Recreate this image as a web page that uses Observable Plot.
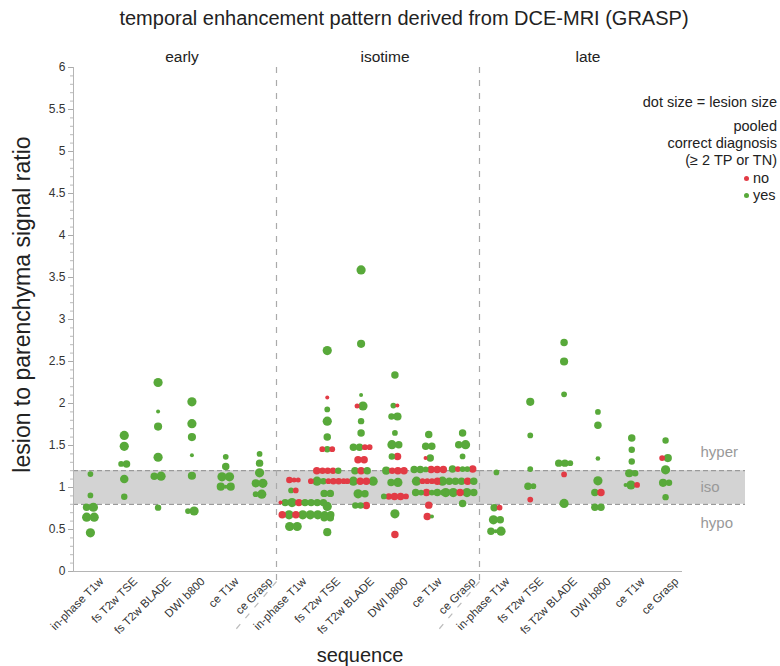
<!DOCTYPE html>
<html><head><meta charset="utf-8">
<script src="https://cdn.jsdelivr.net/npm/d3@7"></script>
<script src="https://cdn.jsdelivr.net/npm/@observablehq/plot@0.6"></script>
<style>
body{margin:0;background:#fff;font-family:"Liberation Sans",Arial,sans-serif;}
#wrap{position:relative;width:780px;height:666px;overflow:hidden;background:#fff}
#chart{position:absolute;left:0;top:0}
.t{position:absolute;white-space:nowrap;color:#222;line-height:1}
.lg{position:absolute;right:3px;text-align:right;font-size:14.5px;white-space:nowrap;color:#222;line-height:1.1}
.b{display:inline-block;width:5px;height:5px;border-radius:50%;margin-right:4px;vertical-align:middle;position:relative;top:-1px}
</style></head><body>
<div id="wrap">
  <div id="chart"></div>
  <div class="t" style="left:0;width:808px;text-align:center;top:8px;font-size:20px">temporal enhancement pattern derived from DCE-MRI (GRASP)</div>
  <div class="t" style="left:-178px;width:400px;text-align:center;top:293px;font-size:23px;transform:rotate(-90deg)">lesion to parenchyma signal ratio</div>
  <div class="t" style="left:260px;width:200px;text-align:center;top:645px;font-size:20px">sequence</div>
  <div class="lg" style="top:95px">dot size = lesion size</div>
  <div class="lg" style="top:119px">pooled</div>
  <div class="lg" style="top:136px">correct diagnosis</div>
  <div class="lg" style="top:153px">(≥ 2 TP or TN)</div>
  <div class="lg" id="lgno" style="top:171px;right:auto;left:744px;text-align:left"></div>
  <div class="lg" id="lgyes" style="top:188px;right:auto;left:744px;text-align:left"></div>
</div>
<script>
const phases = ["early", "isotime", "late"];
const sequences = ["in-phase T1w", "fs T2w TSE", "fs T2w BLADE", "DWI b800", "ce T1w", "ce Grasp"];
const isoBand = [0.8, 1.2];
const zoneNames = ["hyper", "iso", "hypo"];
const zoneRatios = [1.42, 1.0, 0.57];
const yMajorTicks = [0, 0.5, 1, 1.5, 2, 2.5, 3, 3.5, 4, 4.5, 5, 5.5, 6];
const diagnosisLevels = ["no", "yes"];

// [sequence index, lesion/parenchyma ratio, dots in row: y|n (correct) + lesion size]
const earlyRows = [
  [0, 1.16, "y10"], [0, 0.905, "y10"], [0, 0.765, "y15 y20"], [0, 0.647, "y20 y20"], [0, 0.46, "y20"],
  [1, 1.62, "y20"], [1, 1.49, "y20"], [1, 1.28, "y10 y15"], [1, 1.10, "y18"], [1, 0.89, "y12"],
  [2, 2.25, "y20"], [2, 1.905, "y5"], [2, 1.725, "y17"], [2, 1.36, "y20"], [2, 1.135, "y15 y20"], [2, 0.76, "y12"],
  [3, 2.02, "y20"], [3, 1.76, "y20"], [3, 1.60, "y17"], [3, 1.385, "y5"], [3, 1.14, "y17"], [3, 0.72, "y10 y20"],
  [4, 1.365, "y10"], [4, 1.25, "y15"], [4, 1.127, "y20 y20"], [4, 1.01, "y17 y5 y17"],
  [5, 1.40, "y10"], [5, 1.29, "y15"], [5, 1.175, "y20"], [5, 1.05, "y17 y20"], [5, 0.92, "y10 y20"]
];
const isotimeRows = [
  [0, 1.09, "n12 n8 n8"], [0, 0.965, "y10 n10"], [0, 0.82, "n5 y15 y20 n15 y15 y15 y15 y15"],
  [0, 0.675, "n15 y20 n15 y20 y20 y20 y15 y15"], [0, 0.536, "y20 y20"],
  [1, 2.63, "y20"], [1, 2.07, "n5"], [1, 1.93, "y10"], [1, 1.79, "y20"], [1, 1.60, "y15"],
  [1, 1.456, "n10 y12 n10"], [1, 1.20, "n15 n12 n12 n12 y12"], [1, 1.075, "n10 y20 y12 n10 n12 n12 n10"],
  [1, 0.93, "y15 y15"], [1, 0.775, "y20"], [1, 0.64, "y15 y15"], [1, 0.468, "y17"],
  [2, 3.59, "y20"], [2, 2.71, "y17"], [2, 2.10, "y5"], [2, 1.97, "n8 y20"], [2, 1.79, "y12"], [2, 1.65, "y15"],
  [2, 1.48, "y15 y15 n10 n10"], [2, 1.33, "n15 n15"], [2, 1.20, "y15 n15 y15"], [2, 1.075, "n10 y20 n15 n15 y20"],
  [2, 0.925, "y20 y15"], [2, 0.786, "y12 y12 n15"],
  [3, 2.34, "y15"], [3, 1.976, "y10 n5"], [3, 1.845, "y12 y17"], [3, 1.65, "y10"], [3, 1.51, "y20 y15"],
  [3, 1.37, "y12 n15"], [3, 1.20, "y17 n12 n15 n15"], [3, 1.06, "y15 y20"], [3, 0.893, "y10 n12 n15 n15 n10"],
  [3, 0.687, "y20"], [3, 0.44, "n15"],
  [4, 1.63, "y15"], [4, 1.49, "y15 y15"], [4, 1.35, "n5 y15"], [4, 1.215, "y15 y15 y10 n15 n15 n15"],
  [4, 1.075, "y20 n10 n10 n10 n15 y10"], [4, 0.94, "y15 y10 n15 y10 y15 y10"], [4, 0.79, "n15"], [4, 0.655, "n15 y5"],
  [5, 1.65, "y15"], [5, 1.51, "y15 y20"], [5, 1.37, "y10"], [5, 1.22, "y15 n10 y10 y10 n15"],
  [5, 1.075, "y20 y15 y15 y15 n15 y15"], [5, 0.94, "y20 y20 n15 y20 y15"], [5, 0.81, "y15"]
];
const lateRows = [
  [0, 1.18, "y10"], [0, 0.76, "y15 n10"], [0, 0.615, "y20 y15"], [0, 0.48, "y15 y5 y20"],
  [1, 2.02, "y17"], [1, 1.62, "y10"], [1, 1.22, "y10"], [1, 1.015, "y15 y10"], [1, 0.857, "n10"],
  [2, 2.726, "y15"], [2, 2.50, "y17"], [2, 2.11, "y10"], [2, 1.29, "y15 y15 y10"], [2, 1.155, "n10"], [2, 0.81, "y20"],
  [3, 1.90, "y10"], [3, 1.74, "y15"], [3, 1.345, "y7"], [3, 1.08, "y20"], [3, 0.94, "y15 n15"], [3, 0.766, "y15 y15"],
  [4, 1.59, "y15"], [4, 1.45, "y12"], [4, 1.31, "y12"], [4, 1.17, "y17 y12"], [4, 1.03, "y5 y20 n10"],
  [5, 1.56, "y12"], [5, 1.35, "n10 y17"], [5, 1.21, "y20"], [5, 1.056, "y17 y12"], [5, 0.885, "y12"]
];

const W = 780, H = 666, mL = 73, mR = 98, mT = 67, mB = 95;
const facetPx = (W - mL - mR) / phases.length;
const unitPx = facetPx / sequences.length;
const xDomain = [-0.5, sequences.length - 0.5];
const sizeDomain = [5, 20], radiusRange = [2, 4.6];
const rOf = d3.scaleLinear(sizeDomain, radiusRange);
const colors = ["#e23b45", "#58a93a"];

// side-by-side packing of the dots of one row (same ratio), kept inside the facet
function layout(rows, phase) {
  const out = [];
  for (const [seq, ratio, spec] of rows) {
    const dots = spec.trim().split(/\s+/).map(s => ({correct: s[0] === "y" ? "yes" : "no", size: +s.slice(1)}));
    const rs = dots.map(d => rOf(d.size));
    const pos = [0];
    for (let i = 1; i < rs.length; i++) pos.push(pos[i - 1] + 0.82 * (rs[i - 1] + rs[i]));
    const left = pos[0] - rs[0], right = pos[pos.length - 1] + rs[rs.length - 1];
    let shift = -(left + right) / 2;
    const facetLeft = (xDomain[0] - seq) * unitPx + 2, facetRight = (xDomain[1] - seq) * unitPx - 2;
    if (left + shift < facetLeft) shift = facetLeft - left;
    if (right + shift > facetRight) shift = facetRight - right;
    dots.forEach((d, i) => out.push({phase, sequence: sequences[seq], x: seq + (pos[i] + shift) / unitPx, ratio, size: d.size, correct: d.correct}));
  }
  return out;
}
const dots = [...layout(earlyRows, "early"), ...layout(isotimeRows, "isotime"), ...layout(lateRows, "late")];

// px → x units within the last facet
const lastLeft = mL + facetPx * (phases.length - 1);
const toUnits = px => (px - lastLeft) / unitPx + xDomain[0];
const pxPerRatio = (H - mT - mB) / 6;
const bandSegs = phases.map((p, i) => ({phase: p, x1: xDomain[0], x2: i === phases.length - 1 ? toUnits(745) : xDomain[1], y1: isoBand[0], y2: isoBand[1]}));
const bandEdges = bandSegs.flatMap(s => isoBand.map(y => ({...s, y})));
const dividers = phases.slice(1).map(p => ({phase: p, x: xDomain[0], y1: -9 / pxPerRatio, y2: 6}));
const diagLinks = dividers.map(d => ({phase: d.phase, x1: d.x, y1: -10 / pxPerRatio, x2: d.x - 45 / unitPx, y2: -63 / pxPerRatio}));
const zoneX = toUnits(700);
const zones = zoneNames.map((n, i) => ({phase: phases[phases.length - 1], name: n, ratio: zoneRatios[i], x: zoneX}));
const yAxisLine = [{phase: phases[0], x: xDomain[0], y1: 0, y2: 6}];

const plot = Plot.plot({
  width: W, height: H,
  marginLeft: mL, marginRight: mR, marginTop: mT, marginBottom: mB,
  style: {fontFamily: "Liberation Sans, Arial, sans-serif", background: "transparent", overflow: "visible"},
  fx: {domain: phases, padding: 0, label: null},
  x: {domain: xDomain, axis: null},
  y: {domain: [0, 6], axis: null},
  r: {type: "linear", domain: sizeDomain, range: radiusRange},
  color: {domain: diagnosisLevels, range: colors},
  marks: [
    Plot.rect(bandSegs, {fx: "phase", x1: "x1", x2: "x2", y1: "y1", y2: "y2", fill: "#d3d3d3"}),
    Plot.ruleY(bandEdges, {fx: "phase", x1: "x1", x2: "x2", y: "y", stroke: "#9a9a9a", strokeWidth: 1.2, strokeDasharray: "5,3"}),
    Plot.ruleX(dividers, {fx: "phase", x: "x", y1: "y1", y2: "y2", stroke: "#aaa", strokeWidth: 1.2, strokeDasharray: "6,7"}),
    Plot.link(diagLinks, {fx: "phase", x1: "x1", y1: "y1", x2: "x2", y2: "y2", stroke: "#bbb", strokeWidth: 1.2, strokeDasharray: "6,8"}),
    Plot.ruleX(yAxisLine, {fx: "phase", x: "x", y1: "y1", y2: "y2", stroke: "#b5b5b5"}),
    Plot.ruleY([0], {stroke: "#b5b5b5"}),
    Plot.axisY({ticks: d3.range(0, 60.5, 1).map(v => v / 10), tickSize: 3, tickFormat: () => "", stroke: "#bbb", label: null}),
    Plot.axisY({ticks: yMajorTicks, tickSize: 5, tickPadding: 3, stroke: "#aaa", fill: "#333", fontSize: 12, tickFormat: d => String(d), label: null}),
    Plot.axisX({ticks: d3.range(sequences.length), tickFormat: i => sequences[i], tickRotate: -45, tickSize: 0, tickPadding: 6, dx: 11, dy: 2, fontSize: 11.5, fill: "#333", label: null}),
    Plot.axisFx({anchor: "top", tickSize: 0, tickPadding: 6, dx: 7, fontSize: 15.5, fill: "#222", label: null}),
    Plot.text(zones, {fx: "phase", x: "x", y: "ratio", text: "name", textAnchor: "start", fill: "#999", fontSize: 15}),
    Plot.dot(dots, {fx: "phase", x: "x", y: "ratio", r: "size", fill: "correct", stroke: "none"})
  ]
});
document.getElementById("chart").appendChild(plot);
const col = plot.scale("color");
const mk = v => `<span class="b" style="background:${col.apply(v)}"></span>${v}`;
document.getElementById("lgno").innerHTML = mk("no");
document.getElementById("lgyes").innerHTML = mk("yes");
</script>
</body></html>
